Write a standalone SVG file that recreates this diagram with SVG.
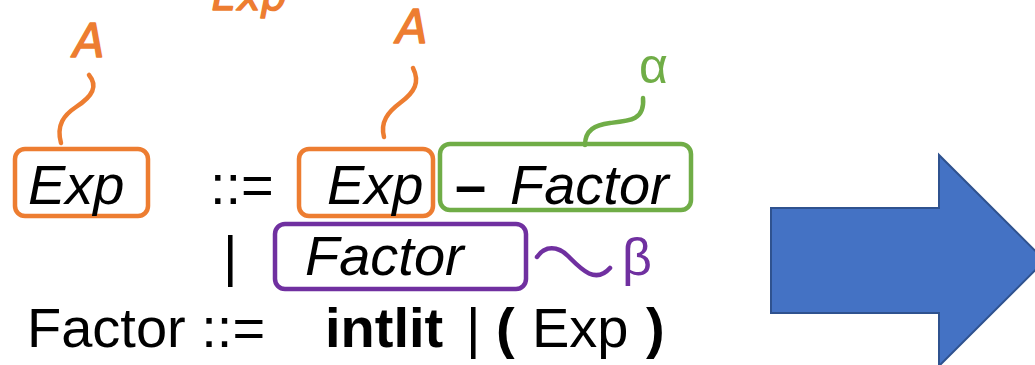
<svg xmlns="http://www.w3.org/2000/svg" width="1035" height="365" viewBox="0 0 1035 365">
<style>
.t{font-family:"Liberation Sans",Arial,sans-serif;font-size:56px;fill:#000}
.i{font-style:italic}
.b{font-weight:bold}
.box{fill:none;stroke-width:4.5}
.or{stroke:#ED7D31}
.gr{stroke:#70AD47}
.pu{stroke:#7030A0}
.sq{fill:none;stroke-width:4.5;stroke-linecap:round}
.hand{font-family:"DejaVu Sans",sans-serif;font-style:italic;fill:#ED7D31;stroke:#ED7D31;stroke-width:1.5;stroke-linejoin:round}
.greek{font-family:"Liberation Sans",Arial,sans-serif}
</style>
<rect width="1035" height="365" fill="#fff"/>
<g id="label-exp-top"><text class="hand" x="212" y="10" font-size="40">Exp</text></g>
<g id="label-A1"><text class="hand" x="89" y="57" font-size="46" text-anchor="middle">A</text></g>
<g id="label-A2"><text class="hand" x="412" y="43" font-size="46" text-anchor="middle">A</text></g>
<g id="label-alpha"><text class="greek" x="639" y="83" font-size="50" fill="#70AD47">α</text></g>
<g id="label-beta"><text class="greek" x="622" y="275" font-size="52" fill="#7030A0">β</text></g>
<g id="connectors">
<path class="sq or" d="M61,143 C56,125 64,115 76,107 C93,96 98,86 89,75"/>
<path class="sq or" d="M384,137 C380,122 388,112 400,103 C415,92 420,82 413,68"/>
<path class="sq gr" d="M585,145 C585,130 595,125 610,123 C630,121 645,120 643,98"/>
<path class="sq pu" d="M537,257 C545,245 558,246 568,256 C580,268 595,285 610,268"/>
</g>
<g id="node-exp-lhs">
<rect class="box or" x="15" y="149" width="133" height="67" rx="10"/>
<text class="t i" x="28" y="204">Exp</text>
</g>
<text class="t" x="210" y="204">::=</text>
<g id="node-exp-rhs">
<rect class="box or" x="299" y="149" width="134" height="67" rx="10"/>
<text class="t i" x="327" y="204">Exp</text>
</g>
<g id="node-minus-factor">
<rect class="box gr" x="440" y="144" width="251" height="66" rx="10"/>
<text class="t" x="455" y="204"><tspan class="b">–</tspan><tspan class="i" x="510">Factor</tspan></text>
</g>
<text class="t" x="223" y="275">|</text>
<g id="node-factor">
<rect class="box pu" x="275" y="224" width="251" height="65" rx="10"/>
<text class="t i" x="305" y="275">Factor</text>
</g>
<g id="rule-factor">
<text class="t" x="27" y="347">Factor ::=<tspan class="b" x="325">intlit</tspan><tspan x="466">|</tspan><tspan class="b" x="496">(</tspan><tspan x="532">Exp</tspan><tspan class="b" x="646">)</tspan></text>
</g>
<g id="node-arrow">
<polygon points="771,208 939,208 939,155 1045,260.5 939,366 939,313 771,313" fill="#4472C4" stroke="#2F528F" stroke-width="2"/>
</g>
</svg>
